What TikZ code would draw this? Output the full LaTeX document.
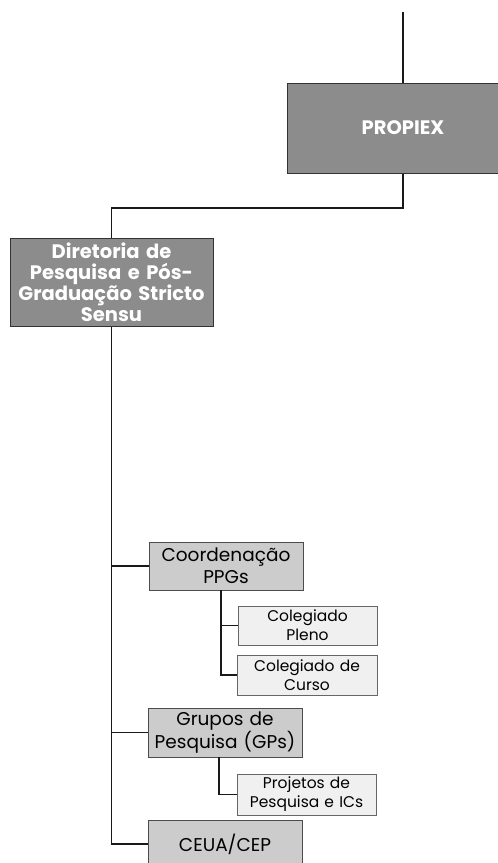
\documentclass[tikz,border=0pt]{standalone}
\usepackage{fontspec}
\setmainfont{Poppins}
\begin{document}
\begin{tikzpicture}[x=1pt,y=-1pt,
  line/.style={draw=black!90,line width=1.6pt},
  darkbox/.style={draw=black!80,line width=1pt,fill=black!45,text=white,font=\bfseries\fontsize{19.5}{21}\selectfont,align=center,inner sep=1pt},
  midbox/.style={draw=black!70,line width=0.8pt,fill=black!20,text=black,font=\fontsize{18.5}{22}\selectfont,align=center,inner sep=1pt},
  lightbox/.style={draw=black!60,line width=0.7pt,fill=black!6,text=black,font=\fontsize{15.5}{19}\selectfont,align=center,inner sep=1pt}]
\useasboundingbox (0,0) rectangle (498,863);
\node[darkbox,minimum width=232pt,minimum height=90pt] (propiex) at (403,128) {PROPIEX};
\node[darkbox,minimum width=203pt,minimum height=88pt,text width=201pt] (dir) at (111.5,282) {Diretoria de\\Pesquisa e Pós-\\Graduação Stricto\\Sensu};
\node[midbox,minimum width=154pt,minimum height=48pt,text width=152pt] (coord) at (226,566) {Coordenação\\PPGs};
\node[lightbox,minimum width=139pt,minimum height=39pt,text width=137pt] (cpleno) at (307.5,625.5) {Colegiado\\Pleno};
\node[lightbox,minimum width=140pt,minimum height=40pt,text width=138pt] (ccurso) at (307,675) {Colegiado de\\Curso};
\node[midbox,minimum width=154pt,minimum height=49pt,text width=152pt] (gp) at (225,732.5) {Grupos de\\Pesquisa (GPs)};
\node[lightbox,minimum width=139pt,minimum height=41pt,text width=137pt] (proj) at (306.5,794.5) {Projetos de\\Pesquisa e ICs};
\node[midbox,minimum width=154pt,minimum height=48pt,text width=152pt] (ceua) at (225,844) {CEUA/CEP};
\coordinate (top) at (403,12);
\coordinate (bend) at (403,208);
\draw[line] (top) -- (propiex.north);
\draw[line] (propiex.south) -- (bend) -| (dir.north);
\draw[line] (dir.south) |- (ceua.west);
\draw[line] (dir.south |- coord.west) -- (coord.west);
\draw[line] (dir.south |- gp.west) -- (gp.west);
\coordinate (cs) at ([xshift=-5pt]coord.south);
\draw[line] (cs) |- (ccurso.west);
\draw[line] (cs |- cpleno.west) -- (cpleno.west);
\coordinate (gs) at ([xshift=-6pt]gp.south);
\draw[line] (gs) |- (proj.west);
\end{tikzpicture}
\end{document}
